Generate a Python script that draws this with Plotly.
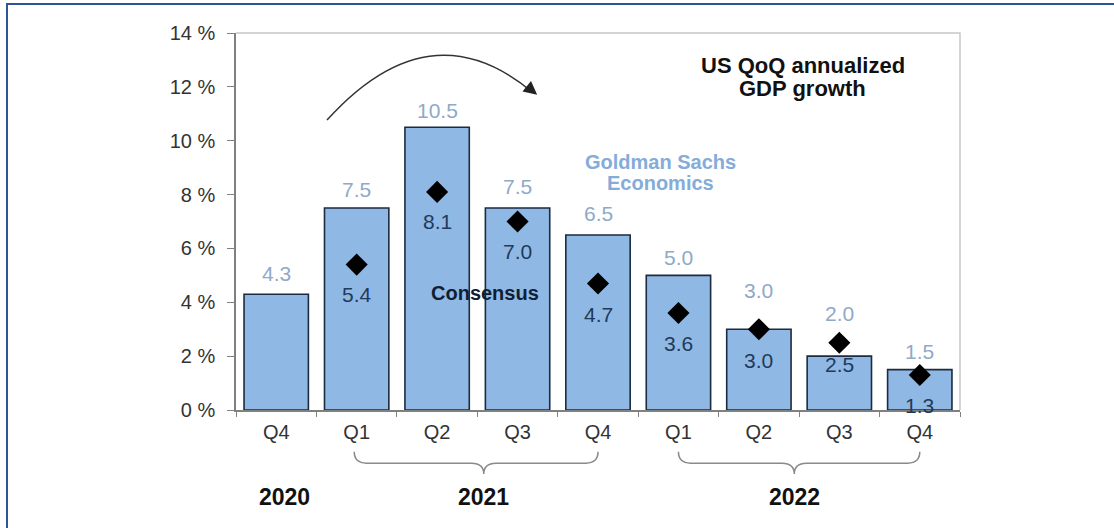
import plotly.graph_objects as go

categories = ["2020 Q4", "2021 Q1", "2021 Q2", "2021 Q3", "2021 Q4",
              "2022 Q1", "2022 Q2", "2022 Q3", "2022 Q4"]
quarters = ["Q4", "Q1", "Q2", "Q3", "Q4", "Q1", "Q2", "Q3", "Q4"]
gs_forecast = [4.3, 7.5, 10.5, 7.5, 6.5, 5.0, 3.0, 2.0, 1.5]
cons_categories = categories[1:]
consensus = [5.4, 8.1, 7.0, 4.7, 3.6, 3.0, 2.5, 1.3]
y_ticks = [0, 2, 4, 6, 8, 10, 12, 14]
y_tick_text = ["0 %", "2 %", "4 %", "6 %", "8 %", "10 %", "12 %", "14 %"]
years = ["2020", "2021", "2022"]

# label placement (pixels above bar tops / below diamonds)
gs_lift = [21, 19, 17, 22, 21, 18, 39, 43, 18]
cons_drop = [30, 30, 30, 31, 30, 31, 22, 31]
year_pos = [0.1, 2.58, 6.44]

FONT = "Liberation Sans, Arial, sans-serif"
BAR_FILL = "#8fb8e4"
BAR_LINE = "#1c2b3f"
GS_LABEL = "#8fa9c7"
GS_TEXT = "#84acd9"
CONS_LABEL = "#1f3a5a"

fig = go.Figure()
fig.add_trace(go.Bar(
    x=categories, y=gs_forecast, width=0.8,
    marker=dict(color=BAR_FILL, line=dict(color=BAR_LINE, width=1.6)),
    showlegend=False, hoverinfo="skip"))
fig.add_trace(go.Scatter(
    x=cons_categories, y=consensus, mode="markers",
    marker=dict(symbol="diamond", size=17, color="black"),
    showlegend=False, hoverinfo="skip"))

annotations = []
for c, v, s in zip(categories, gs_forecast, gs_lift):
    annotations.append(dict(x=c, y=v, xref="x", yref="y", text=f"{v:.1f}",
                            showarrow=False, yshift=s, xanchor="center",
                            font=dict(family=FONT, size=21, color=GS_LABEL)))
for c, v, s in zip(cons_categories, consensus, cons_drop):
    annotations.append(dict(x=c, y=v, xref="x", yref="y", text=f"{v:.1f}",
                            showarrow=False, yshift=-s, xanchor="center",
                            font=dict(family=FONT, size=21, color=CONS_LABEL)))
for yr, p in zip(years, year_pos):
    annotations.append(dict(x=p, y=-0.2308, xref="x", yref="paper", text=f"<b>{yr}</b>",
                            showarrow=False, yanchor="middle", xanchor="center",
                            font=dict(family=FONT, size=23, color="#111111")))
for txt, yy in [("US QoQ annualized", 0.915), ("GDP growth", 0.854)]:
    annotations.append(dict(x=0.783, y=yy, xref="paper", yref="paper",
                            text=f"<b>{txt}</b>", showarrow=False, yanchor="middle",
                            xanchor="center",
                            font=dict(family=FONT, size=22, color="#111111")))
for txt, yy in [("Goldman Sachs", 0.658), ("Economics", 0.602)]:
    annotations.append(dict(x=0.586, y=yy, xref="paper", yref="paper",
                            text=f"<b>{txt}</b>", showarrow=False, yanchor="middle",
                            xanchor="center",
                            font=dict(family=FONT, size=20, color=GS_TEXT)))
annotations.append(dict(x=0.266, y=0.310, xref="paper", yref="paper",
                        text="<b>Consensus</b>", showarrow=False, xanchor="left",
                        yanchor="middle", font=dict(family=FONT, size=20, color="#0f1f33")))
# arrowhead at end of arc
annotations.append(dict(x=0.416, y=0.836, xref="paper", yref="paper", text="",
                        showarrow=True, ax=-11, ay=-9, arrowhead=2, arrowsize=1.8,
                        arrowwidth=1.5, arrowcolor="#222222"))

shapes = []
# outer blue frame
shapes.append(dict(type="rect", xref="paper", yref="paper",
                   x0=-0.3163, x1=2, y0=-1, y1=1.0769,
                   line=dict(color="#2e5596", width=2)))
# light top/right border of plot
shapes.append(dict(type="path", xref="paper", yref="paper",
                   path="M 0,1 L 1,1 L 1,0", line=dict(color="#c8c8c8", width=1.5)))
# arc
shapes.append(dict(type="path", xref="paper", yref="paper",
                   path="M 0.1257,0.769 Q 0.268,1.0716 0.410,0.842",
                   line=dict(color="#333333", width=1.5)))
# braces
yt, ym, ytip = -0.111, -0.141, -0.170
d = 0.15
for x0, x1, xc in [(0.97, 4.0, year_pos[1]), (5.0, 8.0, year_pos[2])]:
    p = (f"M {x0},{yt} Q {x0},{ym} {x0+d},{ym} L {xc-d},{ym} Q {xc},{ym} {xc},{ytip} "
         f"Q {xc},{ym} {xc+d},{ym} L {x1-d},{ym} Q {x1},{ym} {x1},{yt}")
    shapes.append(dict(type="path", xref="x", yref="paper", path=p,
                       line=dict(color="#8a8a8a", width=1.5)))

fig.update_layout(
    width=1114, height=528,
    margin=dict(l=236, r=154, t=33, b=118),
    paper_bgcolor="white", plot_bgcolor="white",
    font=dict(family=FONT, color="#333333"),
    annotations=annotations, shapes=shapes,
    bargap=0.2,
)
fig.update_xaxes(
    type="category", tickmode="array", tickvals=categories, ticktext=quarters,
    tickson="boundaries", ticks="outside", ticklen=5, tickcolor="#808080",
    showline=True, linecolor="#808080", linewidth=1.5, showgrid=False,
    tickfont=dict(family=FONT, size=20, color="#333333"), ticklabelstandoff=3,
    range=[-0.5, 8.5])
fig.update_yaxes(
    range=[0, 14], tickmode="array", tickvals=y_ticks, ticktext=y_tick_text,
    ticks="outside", ticklen=7, tickcolor="#808080",
    showline=True, linecolor="#808080", linewidth=1.5, showgrid=False, zeroline=False,
    tickfont=dict(family=FONT, size=20, color="#333333"), ticklabelstandoff=8)

fig.write_html("out.html")
